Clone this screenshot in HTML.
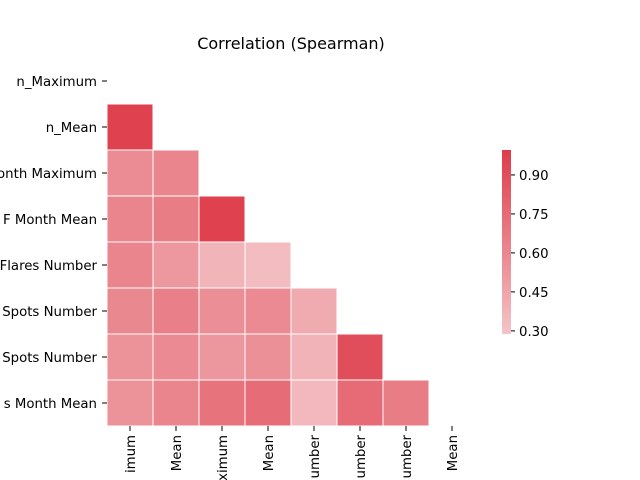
<!DOCTYPE html>
<html><head><meta charset="utf-8"><style>
html,body{margin:0;background:#fff;overflow:hidden;width:640px;height:480px}
svg{display:block;font-family:"DejaVu Sans","Liberation Sans",sans-serif;overflow:hidden}
</style></head><body>
<svg id="chart" width="640" height="480" viewBox="0 0 640 480">
<text x="291" y="49" font-size="16" text-anchor="middle" fill="#000">Correlation (Spearman)</text>
<g id="cells"></g><g id="ylabels"></g><g id="xlabels"></g><g id="cbar"></g>
</svg>
<script>
const labels = ["imum","Mean","ximum","Mean","umber","umber","umber","Mean"];
const yLabels = ["n_Maximum","n_Mean","onth Maximum","F Month Mean","Flares Number","Spots Number","Spots Number","s Month Mean"];
const matrix = [
 [],
 [0.97],
 [0.58,0.62],
 [0.62,0.66,0.97],
 [0.62,0.52,0.37,0.33],
 [0.60,0.64,0.57,0.59,0.42],
 [0.55,0.59,0.53,0.56,0.38,0.90],
 [0.55,0.62,0.71,0.74,0.35,0.75,0.66]
];
const cbarTicks = [0.30,0.45,0.60,0.75,0.90];
const vmin = 0.288, vmax = 0.996;
const NS = "http://www.w3.org/2000/svg";
const x0 = 107, y0 = 58, cs = 46;
const lo = [244,196,200], hi = [222,60,74];
function color(v){const t=Math.max(0,Math.min(1,(v-vmin)/(vmax-vmin)));return "rgb("+lo.map((c,i)=>Math.round(c+(hi[i]-c)*t)).join(",")+")";}
function mk(tag,attrs,parent){const e=document.createElementNS(NS,tag);for(const k in attrs)e.setAttribute(k,attrs[k]);parent.appendChild(e);return e;}
const cells=document.getElementById("cells");
matrix.forEach((row,i)=>row.forEach((v,j)=>{
 const r=mk("rect",{x:x0+j*cs,y:y0+i*cs,width:cs,height:cs,fill:color(v),stroke:"#fff","stroke-width":1},cells);
 
 
}));
const yl=document.getElementById("ylabels");
yLabels.forEach((l,i)=>{
 const cy=y0+i*cs+cs/2;
 mk("line",{x1:102,x2:107,y1:cy,y2:cy,stroke:"#000","stroke-width":1},yl);
 const t=mk("text",{x:97,y:cy+5,"font-size":13.3,"text-anchor":"end"},yl);
 t.textContent=l;
 
 
});
const xl=document.getElementById("xlabels");
labels.forEach((l,j)=>{
 const cx=x0+j*cs+cs/2;
 mk("line",{x1:cx,x2:cx,y1:426,y2:431,stroke:"#000","stroke-width":1},xl);
 const t=mk("text",{x:cx+5,y:435,"font-size":13.3,"text-anchor":"end",transform:"rotate(-90 "+(cx+5)+" 435)"},xl);
 t.textContent=l;
 
 
});
const cb=document.getElementById("cbar");
const cbTop=150,cbBot=334,cbX=502,cbW=9;
const grad=mk("linearGradient",{id:"g",x1:0,y1:1,x2:0,y2:0},mk("defs",{},cb));
mk("stop",{offset:0,"stop-color":color(vmin)},grad);mk("stop",{offset:1,"stop-color":color(vmax)},grad);
const bar=mk("rect",{x:cbX,y:cbTop,width:cbW,height:cbBot-cbTop,fill:"url(#g)"},cb);


function cy(v){return cbBot-(v-vmin)/(vmax-vmin)*(cbBot-cbTop);}
cbarTicks.forEach(v=>{
 const y=cy(v);
 mk("line",{x1:cbX+cbW,x2:cbX+cbW+4,y1:y,y2:y,stroke:"#000"},cb);
 const t=mk("text",{x:519,y:y+5,"font-size":13.3},cb);
 t.textContent=v.toFixed(2);
 
 
});
</script>
</body></html>
